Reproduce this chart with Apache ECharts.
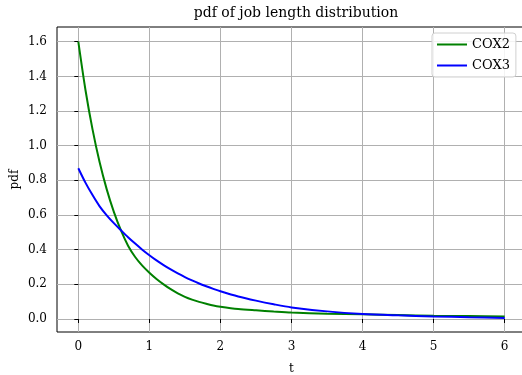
<!DOCTYPE html>
<html>
<head>
<meta charset="utf-8">
<script src="https://cdn.jsdelivr.net/npm/echarts@6/dist/echarts.min.js"></script>
<style>html,body{margin:0;padding:0;background:#fff;}#c{width:522px;height:375px;}</style>
</head>
<body>
<div id="c"></div>
<script>
const tValues = [0, 0.1, 0.2, 0.3, 0.4, 0.5, 0.6, 0.7, 0.8, 0.9, 1.0, 1.1, 1.2, 1.3, 1.4, 1.5, 1.6, 1.7, 1.8, 1.9, 2.0, 2.25, 2.5, 2.75, 3.0, 3.5, 4.0, 4.5, 5.0, 5.5, 6.0];
const cox2 = [1.6, 1.323, 1.094, 0.904, 0.748, 0.618, 0.511, 0.423, 0.358, 0.308, 0.267, 0.231, 0.200, 0.172, 0.148, 0.128, 0.112, 0.099, 0.088, 0.078, 0.071, 0.058, 0.05, 0.043, 0.037, 0.031, 0.027, 0.023, 0.019, 0.017, 0.015];
const cox3 = [0.87, 0.787, 0.715, 0.65, 0.598, 0.553, 0.512, 0.472, 0.435, 0.4, 0.368, 0.338, 0.311, 0.286, 0.263, 0.242, 0.223, 0.205, 0.189, 0.174, 0.16, 0.13, 0.106, 0.085, 0.067, 0.044, 0.029, 0.021, 0.015, 0.01, 0.006];
const xTicks = [0, 1, 2, 3, 4, 5, 6];
const yTicks = [0.0, 0.2, 0.4, 0.6, 0.8, 1.0, 1.2, 1.4, 1.6];
const seriesNames = ['COX2', 'COX3'];
const seriesColors = ['#008000', '#0000ff'];

const FONT = 'DejaVu Serif';
const chart = echarts.init(document.getElementById('c'), null, {renderer: 'canvas'});
const mk = (vals) => tValues.map((t, i) => [t, vals[i]]);
chart.setOption({
  animation: false,
  backgroundColor: '#fff',
  title: {
    text: 'pdf of job length distribution',
    left: 291, top: 1, textAlign: 'center',
    textStyle: {fontFamily: FONT, fontSize: 14, fontWeight: 'normal', color: '#000'}
  },
  grid: {left: 57, top: 27, right: -4, bottom: 43, outerBoundsMode: 'none', containLabel: false, show: true, borderColor: '#000', borderWidth: 1, backgroundColor: 'transparent'},
  legend: {
    orient: 'vertical', left: 432, top: 33,
    padding: [5, 6, 5, 4], itemGap: 8, itemWidth: 30, itemHeight: 14,
    itemStyle: {opacity: 0},
    backgroundColor: 'rgba(255,255,255,0.85)', borderColor: '#d0d0d0', borderWidth: 1, borderRadius: 3,
    textStyle: {fontFamily: FONT, fontSize: 13, color: '#000'},
    data: seriesNames
  },
  xAxis: {
    type: 'value', min: -0.3, max: 6.3,
    name: 't', nameLocation: 'middle', nameGap: 31, nameMoveOverlap: false,
    nameTextStyle: {fontFamily: FONT, fontSize: 12, color: '#000'},
    axisLine: {show: false},
    axisTick: {show: true, customValues: xTicks, length: 4, lineStyle: {color: '#000'}},
    axisLabel: {customValues: xTicks, fontFamily: FONT, fontSize: 12, color: '#000', margin: 9, formatter: v => String(v)},
    splitLine: {show: true, lineStyle: {color: '#b0b0b0', width: 1}}
  },
  yAxis: {
    type: 'value', min: -0.075, max: 1.685,
    name: 'pdf', nameLocation: 'middle', nameGap: 36, nameMoveOverlap: false,
    nameTextStyle: {fontFamily: FONT, fontSize: 12, color: '#000'},
    axisLine: {show: false},
    axisTick: {show: true, customValues: yTicks, length: 4, lineStyle: {color: '#000'}},
    axisLabel: {customValues: yTicks, fontFamily: FONT, fontSize: 12, color: '#000', margin: 10, formatter: v => v.toFixed(1)},
    splitLine: {show: true, lineStyle: {color: '#b0b0b0', width: 1}}
  },
  series: [
    {name: seriesNames[0], type: 'line', data: mk(cox2), smooth: 0.3, symbol: 'none', lineStyle: {color: seriesColors[0], width: 2}, itemStyle: {color: seriesColors[0]}},
    {name: seriesNames[1], type: 'line', data: mk(cox3), smooth: 0.3, symbol: 'none', lineStyle: {color: seriesColors[1], width: 2}, itemStyle: {color: seriesColors[1]}}
  ]
});
</script>
</body>
</html>
